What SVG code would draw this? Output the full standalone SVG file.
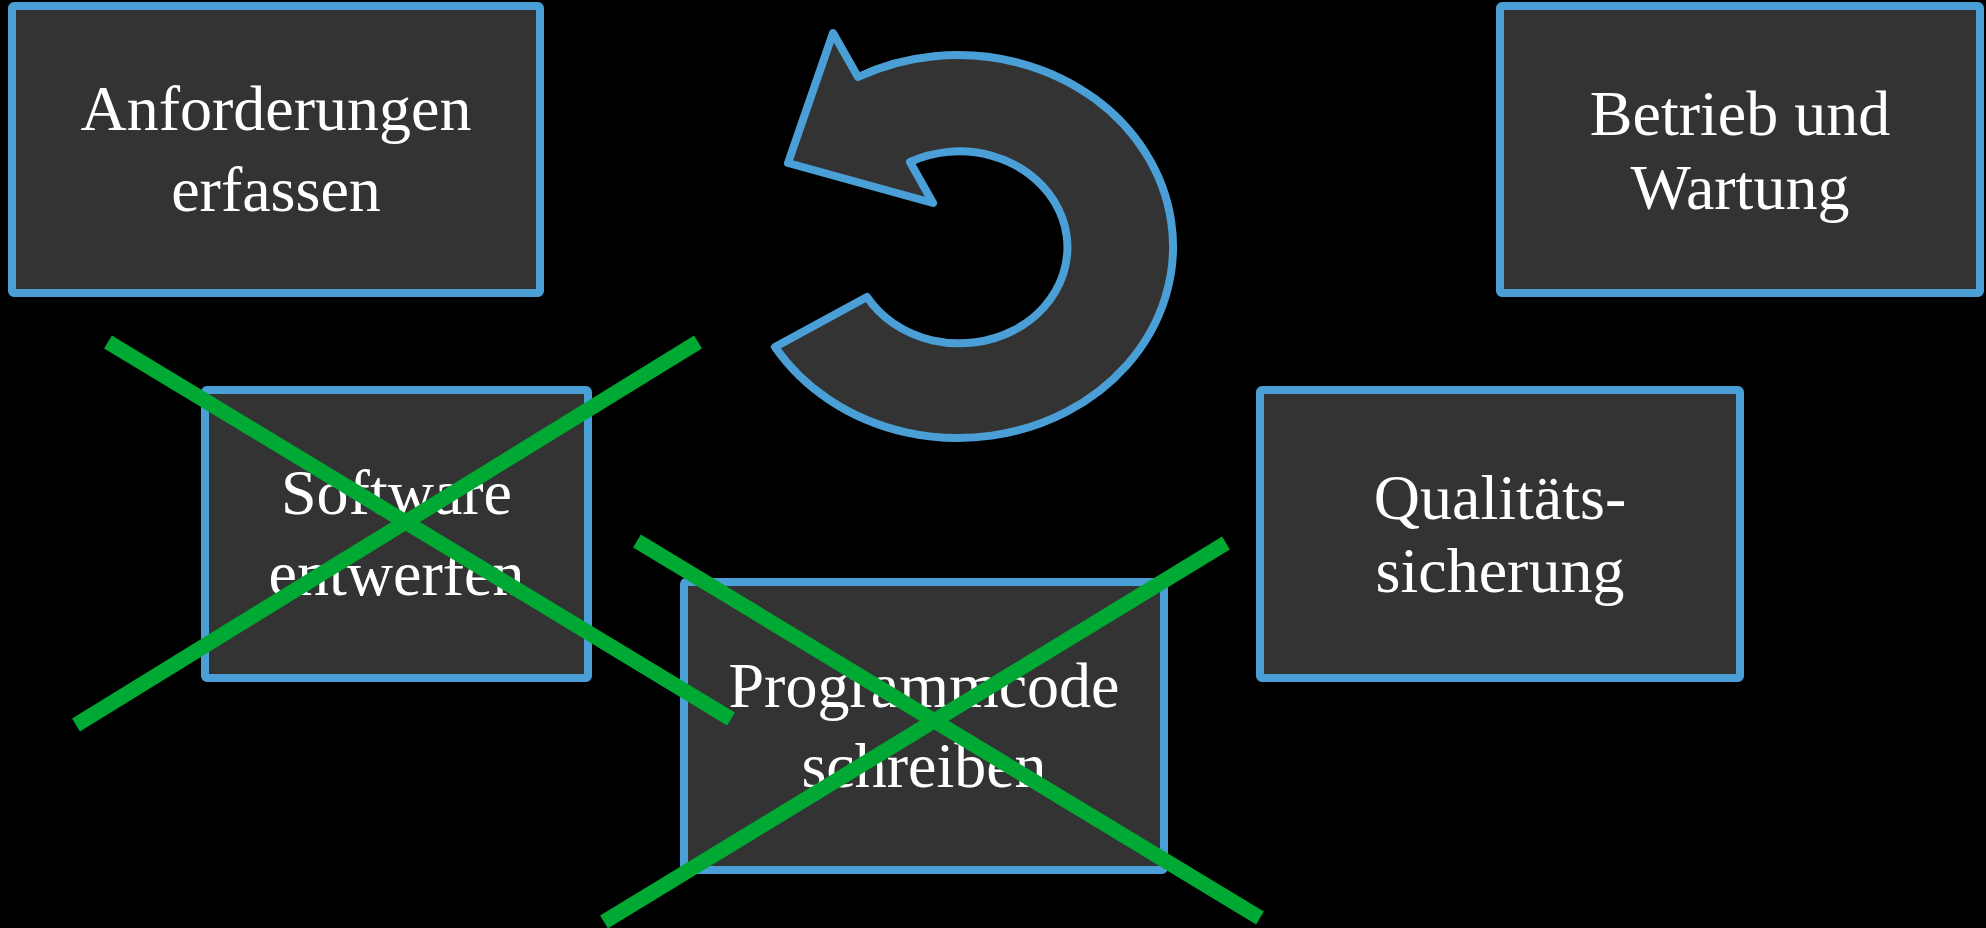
<svg xmlns="http://www.w3.org/2000/svg" width="1986" height="928" viewBox="0 0 1986 928">
  <style>
    .box { fill: #333333; stroke: #4a9fd6; stroke-width: 8; stroke-linejoin: round; }
    .label { font-family: "Liberation Serif", "Times New Roman", serif; font-size: 64px; fill: #ffffff; text-anchor: middle; }
    .cross { stroke: #00a933; stroke-width: 15; stroke-linecap: butt; fill: none; }
  </style>
  <rect width="1986" height="928" fill="#000000"/>

  <!-- cycle arrow -->
  <g id="cycle-arrow">
    <path class="box" d="M 833,33 L 858,77 A 215 191.5 0 1 1 775,347 L 867,297 A 108 96 0 1 0 910,162 L 933,203 L 788,163 Z"/>
  </g>

  <g id="node-anforderungen">
    <rect class="box" x="12" y="6" width="528" height="287" rx="2"/>
    <text class="label" x="276" y="130">Anforderungen</text>
    <text class="label" x="276" y="210.5">erfassen</text>
  </g>

  <g id="node-betrieb">
    <rect class="box" x="1500" y="6" width="480" height="287" rx="2"/>
    <text class="label" x="1740" y="134.5">Betrieb und</text>
    <text class="label" x="1740" y="209">Wartung</text>
  </g>

  <g id="node-software">
    <rect class="box" x="205" y="390" width="383" height="288" rx="2"/>
    <text class="label" x="396.5" y="514">Software</text>
    <text class="label" x="396.5" y="595">entwerfen</text>
  </g>

  <g id="node-qualitaet">
    <rect class="box" x="1260" y="390" width="480" height="288" rx="2"/>
    <text class="label" x="1500" y="518.5">Qualitäts-</text>
    <text class="label" x="1500" y="592">sicherung</text>
  </g>

  <g id="node-programmcode">
    <rect class="box" x="684" y="582" width="480" height="288" rx="2"/>
    <text class="label" x="924" y="706.5">Programmcode</text>
    <text class="label" x="924" y="786.5">schreiben</text>
  </g>

  <!-- cross-out marks -->
  <g id="crossouts">
    <line class="cross" x1="108" y1="342" x2="731" y2="719"/>
    <line class="cross" x1="76" y1="725" x2="698" y2="342"/>
    <line class="cross" x1="637" y1="541" x2="1260" y2="918"/>
    <line class="cross" x1="604" y1="922" x2="1226" y2="543"/>
  </g>
</svg>
